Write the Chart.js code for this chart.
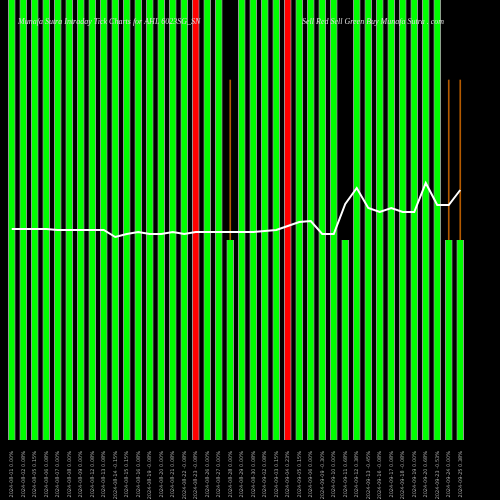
<!DOCTYPE html>
<html><head><style>html,body{margin:0;background:#000}#w{width:500px;height:500px}</style>
<script src="https://cdn.jsdelivr.net/npm/chart.js@4"></script></head>
<body><div id="w"><canvas id="c"></canvas></div>
<script>
const labels=["2024-08-01 0.00%","2024-08-02 0.08%","2024-08-05 0.15%","2024-08-06 0.08%","2024-08-07 0.00%","2024-08-08 0.00%","2024-08-09 0.00%","2024-08-12 0.08%","2024-08-13 0.08%","2024-08-14 -0.15%","2024-08-15 0.15%","2024-08-16 0.08%","2024-08-19 -0.08%","2024-08-20 0.00%","2024-08-21 0.08%","2024-08-22 -0.08%","2024-08-23 -0.08%","2024-08-26 0.00%","2024-08-27 0.00%","2024-08-28 0.00%","2024-08-29 0.00%","2024-08-30 0.08%","2024-09-02 0.08%","2024-09-03 0.15%","2024-09-04 0.23%","2024-09-05 0.15%","2024-09-06 0.00%","2024-09-09 -0.30%","2024-09-10 0.00%","2024-09-11 0.68%","2024-09-12 0.38%","2024-09-13 -0.45%","2024-09-16 -0.08%","2024-09-17 0.08%","2024-09-18 -0.08%","2024-09-19 0.00%","2024-09-20 0.68%","2024-09-23 -0.53%","2024-09-24 0.00%","2024-09-25 0.38%"];
const barHigh=[440,440,440,440,440,440,440,440,440,440,440,440,440,440,440,440,440,440,440,200,440,440,440,440,440,440,440,440,440,200,440,440,440,440,440,440,440,440,200,200];
const barColor=["g","g","g","g","g","g","g","g","g","g","g","g","g","g","g","g","r","g","g","g","g","g","g","g","r","g","g","g","g","g","g","g","g","g","g","g","g","g","g","g"];
const wickLow=[null,null,null,null,null,null,null,null,null,null,null,null,null,null,null,null,null,null,null,200,null,null,null,null,null,null,null,null,null,null,null,null,null,null,null,null,null,null,200,200];
const wickHigh=[null,null,null,null,null,null,null,null,null,null,null,null,null,null,null,null,null,null,null,360,null,null,null,null,null,null,null,null,null,null,null,null,null,null,null,null,null,null,360,360];
const lineVals=[211,211,211,211,210,210,210,210,210,203,206,208,206,206,208,206,208,208,208,208,208,208,209,210,214,218,219,206,206,236,252,232,228,232,228,228,257,235,235,250];
const titleLeft="Munafa Sutra Intraday Tick Charts for AHL 6023SG_SN";
const titleRight="Sell Red Sell Green Buy Munafa Sutra . com";
const titlePlug={id:'tp',afterDatasetsDraw(ch){const c=ch.ctx;c.save();c.font='italic 8px "Liberation Serif"';c.fillStyle='#ddd';c.textBaseline='middle';c.fillText(titleLeft,18,22);c.fillText(titleRight,302,22);c.restore();}};
new Chart(document.getElementById('c'),{
data:{labels,datasets:[
{type:'line',data:lineVals,borderColor:'#fff',borderWidth:2,pointRadius:0,tension:0,order:0},
{type:'bar',data:barHigh.map(v=>[0,v]),backgroundColor:barColor.map(c=>c==='r'?'#ff0000':'#00ff00'),borderColor:'#999',borderWidth:{left:1,right:1,top:0,bottom:0},barThickness:7,grouped:false,order:2},
{type:'bar',data:wickLow.map((v,i)=>v===null?null:[v,wickHigh[i]]),backgroundColor:'#b35a00',barThickness:1,grouped:false,order:3}
]},
options:{responsive:true,maintainAspectRatio:false,animation:false,
layout:{padding:{left:6,right:34,top:0,bottom:0}},
plugins:{legend:{display:false},tooltip:{enabled:false}},
scales:{
x:{offset:true,grid:{display:false},border:{display:false},ticks:{color:'#aaa',font:{size:5,family:'DejaVu Sans'},maxRotation:90,minRotation:90,autoSkip:false},afterFit(s){s.height=60;}},
y:{display:false,min:0,max:440}
}}
,plugins:[titlePlug]});
</script></body></html>
